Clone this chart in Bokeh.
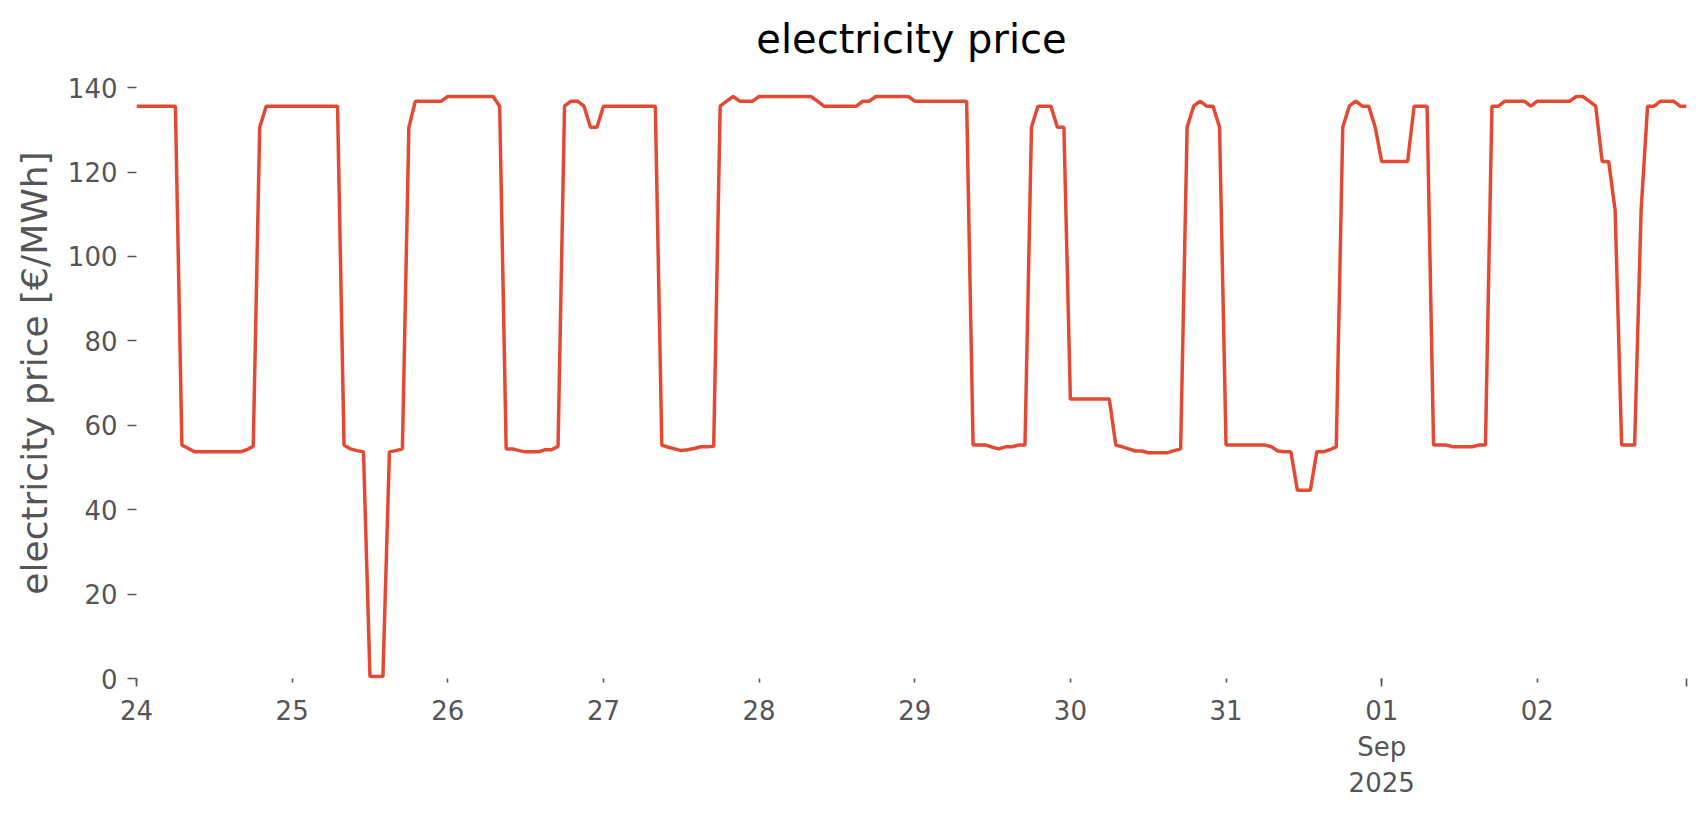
import pandas as pd
from bokeh.plotting import figure
from bokeh.models import Range1d, FixedTicker
from bokeh.embed import file_html
from bokeh.resources import INLINE

# ---- data (hourly electricity price, €/MWh) ----
start_time = "2025-08-24 00:00"
price = [
    # 24 Aug
    135.6, 135.6, 135.6, 135.6, 135.6, 135.6, 135.6, 55.3, 54.5, 53.7, 53.7, 53.7,
    53.7, 53.7, 53.7, 53.7, 53.7, 54.2, 55.0, 130.6, 135.6, 135.6, 135.6, 135.6,
    # 25 Aug
    135.6, 135.6, 135.6, 135.6, 135.6, 135.6, 135.6, 135.6, 55.3, 54.4, 54.0, 53.7,
    0.5, 0.5, 0.5, 53.7, 54.0, 54.4, 130.6, 136.8, 136.8, 136.8, 136.8, 136.8,
    # 26 Aug
    137.9, 137.9, 137.9, 137.9, 137.9, 137.9, 137.9, 137.9, 135.6, 54.4, 54.4, 54.0,
    53.7, 53.7, 53.7, 54.2, 54.2, 55.0, 135.6, 136.8, 136.8, 135.6, 130.6, 130.6,
    # 27 Aug
    135.6, 135.6, 135.6, 135.6, 135.6, 135.6, 135.6, 135.6, 135.6, 55.3, 54.8, 54.4,
    54.0, 54.2, 54.5, 54.9, 54.9, 55.0, 135.6, 136.8, 137.9, 136.8, 136.8, 136.8,
    # 28 Aug
    137.9, 137.9, 137.9, 137.9, 137.9, 137.9, 137.9, 137.9, 137.9, 136.8, 135.6, 135.6,
    135.6, 135.6, 135.6, 135.6, 136.8, 136.8, 137.9, 137.9, 137.9, 137.9, 137.9, 137.9,
    # 29 Aug
    136.8, 136.8, 136.8, 136.8, 136.8, 136.8, 136.8, 136.8, 136.8, 55.3, 55.3, 55.3,
    54.8, 54.4, 54.9, 54.9, 55.3, 55.3, 130.6, 135.6, 135.6, 135.6, 130.6, 130.6,
    # 30 Aug
    66.2, 66.2, 66.2, 66.2, 66.2, 66.2, 66.2, 55.3, 54.9, 54.4, 53.9, 53.9,
    53.5, 53.5, 53.5, 53.5, 54.0, 54.4, 130.6, 135.6, 136.8, 135.6, 135.6, 130.6,
    # 31 Aug
    55.3, 55.3, 55.3, 55.3, 55.3, 55.3, 55.3, 54.9, 53.9, 53.7, 53.7, 44.6,
    44.6, 44.6, 53.7, 53.7, 54.2, 54.9, 130.6, 135.6, 136.8, 135.6, 135.6, 130.6,
    # 01 Sep
    122.5, 122.5, 122.5, 122.5, 122.5, 135.6, 135.6, 135.6, 55.3, 55.3, 55.3, 54.9,
    54.9, 54.9, 54.9, 55.3, 55.3, 135.6, 135.6, 136.8, 136.8, 136.8, 136.8, 135.6,
    # 02 Sep
    136.8, 136.8, 136.8, 136.8, 136.8, 136.8, 137.9, 137.9, 136.8, 135.6, 122.5, 122.5,
    110.9, 55.3, 55.3, 55.3, 110.9, 135.6, 135.6, 136.8, 136.8, 136.8, 135.6, 135.6,
]
day_tick_dates = ["2025-08-24", "2025-08-25", "2025-08-26", "2025-08-27", "2025-08-28",
                  "2025-08-29", "2025-08-30", "2025-08-31", "2025-09-01", "2025-09-02"]
day_tick_labels = ["24", "25", "26", "27", "28", "29", "30", "31", "01\nSep\n2025", "02"]
long_tick_dates = ["2025-08-24", "2025-09-01"]
y_tick_values = [0, 20, 40, 60, 80, 100, 120, 140]

times = pd.date_range(start_time, periods=len(price), freq="h")


def ms(t):
    return float(pd.Timestamp(t).timestamp() * 1000.0)


ymin = 0.0
ymax = max(price) + 0.05 * (max(price) - min(price))

FONT = "DejaVu Sans"
GREY = "#555555"

p = figure(width=1700, height=800, x_axis_type="datetime",
           output_backend="svg", toolbar_location=None,
           x_range=Range1d(ms(times[0]), ms(times[-1])),
           y_range=Range1d(ymin, ymax),
           min_border_left=136, min_border_right=14,
           min_border_top=67, min_border_bottom=118)

p.title.text = "electricity price"
p.title.align = "center"
p.title.text_font = FONT
p.title.text_font_size = "40px"
p.title.text_font_style = "normal"
p.title.text_color = "#000000"
p.title.standoff = 12

p.background_fill_color = "white"
p.border_fill_color = "white"
p.outline_line_color = None
p.xgrid.grid_line_color = None
p.ygrid.grid_line_color = None

p.line(times, price, line_color="#E24A33", line_width=3.5)

# x axis
xt = [ms(d) for d in day_tick_dates]
minor = [ms(d) for d in long_tick_dates] + [ms(times[-1])]
p.xaxis.ticker = FixedTicker(ticks=xt, minor_ticks=minor)
p.xaxis.major_label_overrides = {v: lab for v, lab in zip(xt, day_tick_labels)}
p.xaxis.major_tick_out = 4
p.xaxis.major_tick_in = 0
p.xaxis.minor_tick_out = 8
p.xaxis.minor_tick_in = 0
p.xaxis.major_tick_line_color = GREY
p.xaxis.minor_tick_line_color = GREY
p.xaxis.major_tick_line_width = 1.6
p.xaxis.minor_tick_line_width = 1.6
p.xaxis.axis_line_color = None
p.xaxis.major_label_text_font = FONT
p.xaxis.major_label_text_font_size = "26px"
p.xaxis.major_label_text_color = GREY
p.xaxis.major_label_standoff = 9

# y axis
p.yaxis.ticker = FixedTicker(ticks=y_tick_values)
p.yaxis.minor_tick_line_color = None
p.yaxis.major_tick_out = 9
p.yaxis.major_tick_in = 0
p.yaxis.major_tick_line_color = GREY
p.yaxis.major_tick_line_width = 1.6
p.yaxis.axis_line_color = None
p.yaxis.major_label_text_font = FONT
p.yaxis.major_label_text_font_size = "26px"
p.yaxis.major_label_text_color = GREY
p.yaxis.major_label_standoff = 10
p.yaxis.axis_label = "electricity price [€/MWh]"
p.yaxis.axis_label_text_font = FONT
p.yaxis.axis_label_text_font_size = "36px"
p.yaxis.axis_label_text_font_style = "normal"
p.yaxis.axis_label_text_color = GREY
p.yaxis.axis_label_standoff = 10

open("out.html", "w").write(file_html(p, INLINE))
